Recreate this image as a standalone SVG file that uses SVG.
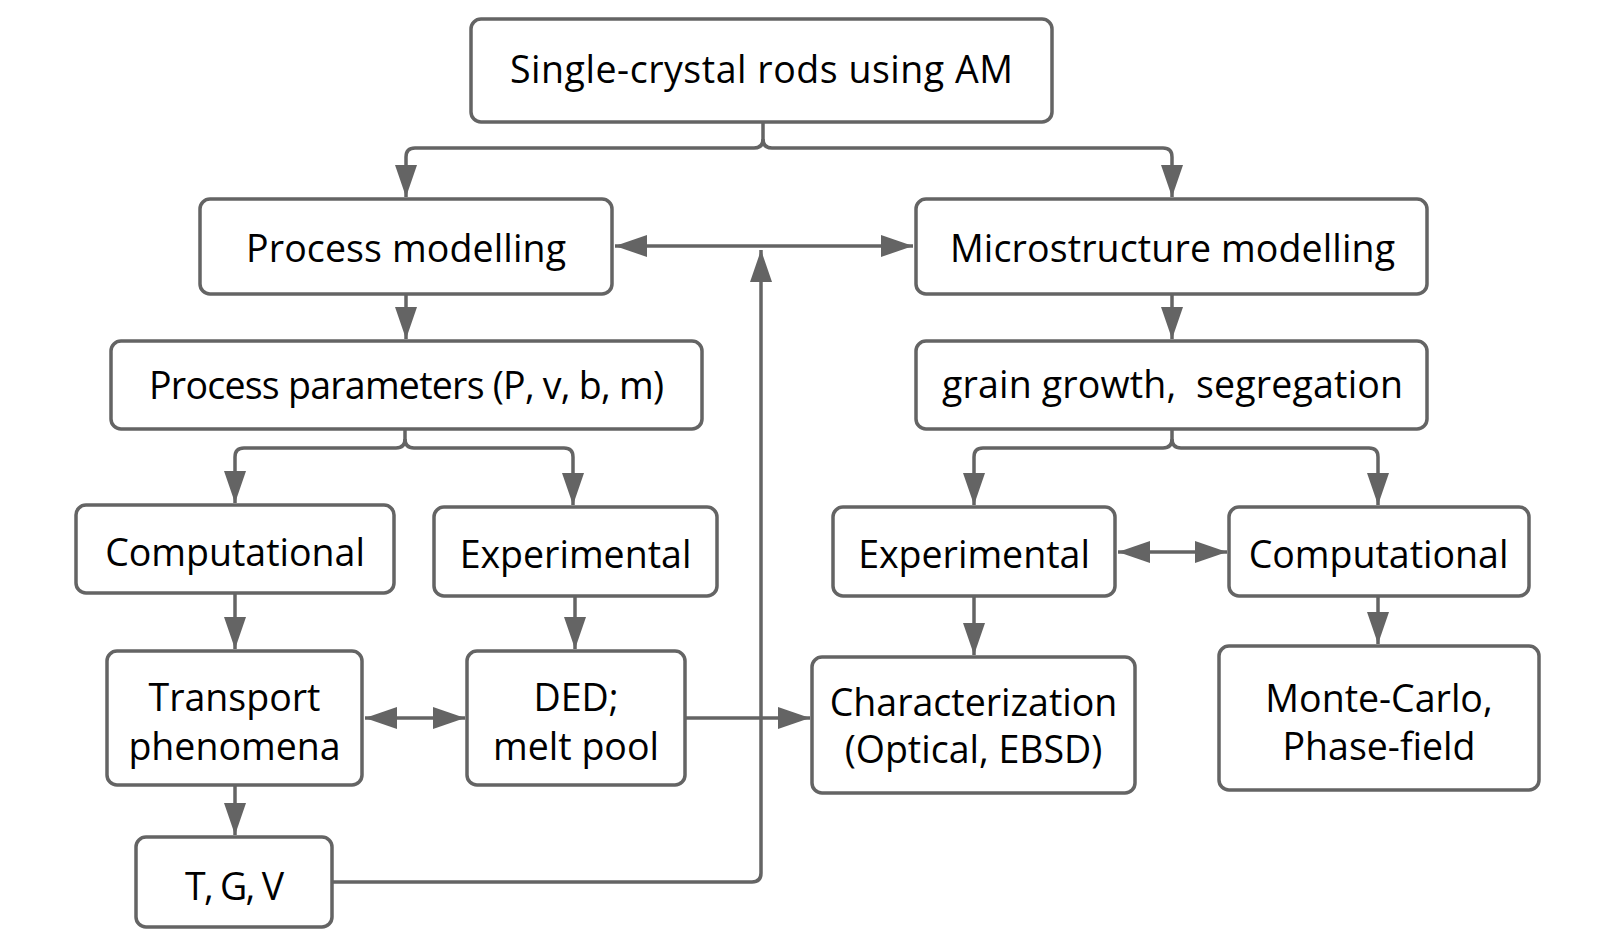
<svg xmlns="http://www.w3.org/2000/svg" width="1614" height="948" viewBox="0 0 1614 948">
<style>
.box{fill:#fff;stroke:#646464;stroke-width:3.5}
.lbl{font-family:"Open Sans","Liberation Sans",sans-serif;font-size:37.5px;fill:#000;text-anchor:middle}
.con{fill:none;stroke:#646464;stroke-width:3.5}
</style>
<defs>
<marker id="ah" markerUnits="userSpaceOnUse" markerWidth="34" markerHeight="24" refX="32" refY="11" orient="auto-start-reverse" viewBox="0 0 34 24">
<path d="M0,0 L32,11 L0,22 z" fill="#646464"/>
</marker>
</defs>
<rect width="1614" height="948" fill="#fff"/>
<g id="connectors">
<path class="con" d="M763,122 V139 Q763,148 754,148 H415 Q406,148 406,157 V197" marker-end="url(#ah)"/>
<path class="con" d="M763,139 Q763,148 772,148 H1163 Q1172,148 1172,157 V197" marker-end="url(#ah)"/>
<path class="con" d="M406,294 V339" marker-end="url(#ah)"/>
<path class="con" d="M1172,294 V339" marker-end="url(#ah)"/>
<path class="con" d="M615,246 H913" marker-start="url(#ah)" marker-end="url(#ah)"/>
<path class="con" d="M405,429 V439 Q405,448 396,448 H244 Q235,448 235,457 V503" marker-end="url(#ah)"/>
<path class="con" d="M405,439 Q405,448 414,448 H564 Q573,448 573,457 V505" marker-end="url(#ah)"/>
<path class="con" d="M1172,429 V439 Q1172,448 1163,448 H983 Q974,448 974,457 V505" marker-end="url(#ah)"/>
<path class="con" d="M1172,439 Q1172,448 1181,448 H1369 Q1378,448 1378,457 V505" marker-end="url(#ah)"/>
<path class="con" d="M235,593 V649" marker-end="url(#ah)"/>
<path class="con" d="M575,596 V649" marker-end="url(#ah)"/>
<path class="con" d="M974,596 V655" marker-end="url(#ah)"/>
<path class="con" d="M1378,596 V644" marker-end="url(#ah)"/>
<path class="con" d="M1118,552 H1227" marker-start="url(#ah)" marker-end="url(#ah)"/>
<path class="con" d="M365,718 H465" marker-start="url(#ah)" marker-end="url(#ah)"/>
<path class="con" d="M685,718 H810" marker-end="url(#ah)"/>
<path class="con" d="M235,785 V835" marker-end="url(#ah)"/>
<path class="con" d="M332,882 H752 Q761,882 761,873 V250" marker-end="url(#ah)"/>
</g>
<g id="n-top"><rect class="box" x="471" y="19" width="581" height="103" rx="10"/><text class="lbl" x="761.5" y="83" textLength="503">Single-crystal rods using AM</text></g>
<g id="n-process-modelling"><rect class="box" x="200" y="199" width="412" height="95" rx="10"/><text class="lbl" x="406" y="262" textLength="320">Process modelling</text></g>
<g id="n-microstructure-modelling"><rect class="box" x="916" y="199" width="511" height="95" rx="10"/><text class="lbl" x="1172.5" y="262" textLength="445">Microstructure modelling</text></g>
<g id="n-process-parameters"><rect class="box" x="111" y="341" width="591" height="88" rx="10"/><text class="lbl" x="406.5" y="399" textLength="515">Process parameters (P, v, b, m)</text></g>
<g id="n-grain-growth"><rect class="box" x="916" y="341" width="511" height="88" rx="10"/><text class="lbl" x="1172.5" y="398" textLength="461" xml:space="preserve">grain growth,  segregation</text></g>
<g id="n-computational-left"><rect class="box" x="76" y="505" width="318" height="88" rx="10"/><text class="lbl" x="235" y="566">Computational</text></g>
<g id="n-experimental-left"><rect class="box" x="434" y="507" width="283" height="89" rx="10"/><text class="lbl" x="575.5" y="568">Experimental</text></g>
<g id="n-experimental-right"><rect class="box" x="833" y="507" width="282" height="89" rx="10"/><text class="lbl" x="974" y="568">Experimental</text></g>
<g id="n-computational-right"><rect class="box" x="1229" y="507" width="300" height="89" rx="10"/><text class="lbl" x="1378.5" y="568">Computational</text></g>
<g id="n-transport"><rect class="box" x="107" y="651" width="255" height="134" rx="10"/><text class="lbl" x="234.5" y="711">Transport</text><text class="lbl" x="234.5" y="760">phenomena</text></g>
<g id="n-ded"><rect class="box" x="467" y="651" width="218" height="134" rx="10"/><text class="lbl" x="576" y="711">DED;</text><text class="lbl" x="576" y="760">melt pool</text></g>
<g id="n-characterization"><rect class="box" x="812" y="657" width="323" height="136" rx="10"/><text class="lbl" x="973.5" y="716">Characterization</text><text class="lbl" x="973.5" y="763">(Optical, EBSD)</text></g>
<g id="n-monte-carlo"><rect class="box" x="1219" y="646" width="320" height="144" rx="10"/><text class="lbl" x="1379" y="712">Monte-Carlo,</text><text class="lbl" x="1379" y="760">Phase-field</text></g>
<g id="n-tgv"><rect class="box" x="136" y="837" width="196" height="90" rx="10"/><text class="lbl" x="234.5" y="900" textLength="99">T, G, V</text></g>
</svg>
